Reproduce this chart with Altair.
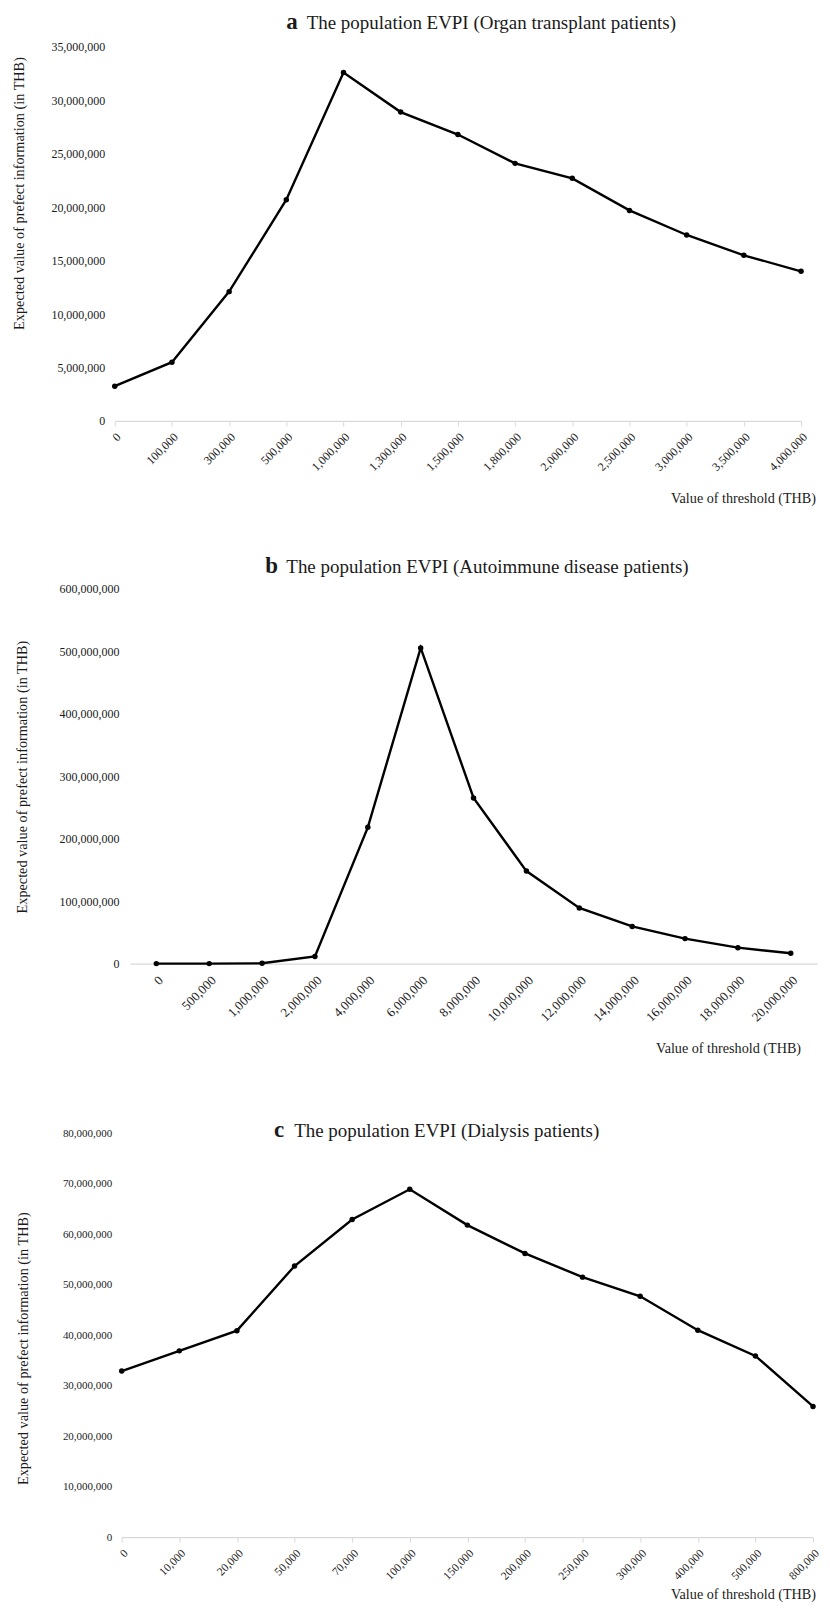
import altair as alt
import pandas as pd

# ---------------- data ----------------
a_thresholds = ["0", "100,000", "300,000", "500,000", "1,000,000", "1,300,000", "1,500,000",
                "1,800,000", "2,000,000", "2,500,000", "3,000,000", "3,500,000", "4,000,000"]
a_evpi = [3250000, 5500000, 12100000, 20700000, 32600000, 28900000, 26800000,
          24100000, 22700000, 19700000, 17400000, 15500000, 14000000]
a_yticks = [0, 5000000, 10000000, 15000000, 20000000, 25000000, 30000000, 35000000]

b_thresholds = ["0", "500,000", "1,000,000", "2,000,000", "4,000,000", "6,000,000", "8,000,000",
                "10,000,000", "12,000,000", "14,000,000", "16,000,000", "18,000,000", "20,000,000"]
b_evpi = [0, 0, 500000, 11500000, 218000000, 505000000, 265000000,
          148000000, 89000000, 59500000, 40000000, 25500000, 16500000]
b_yticks = [0, 100000000, 200000000, 300000000, 400000000, 500000000, 600000000]

c_thresholds = ["0", "10,000", "20,000", "50,000", "70,000", "100,000", "150,000",
                "200,000", "250,000", "300,000", "400,000", "500,000", "800,000"]
c_evpi = [32900000, 36900000, 40900000, 53700000, 62900000, 68900000, 61800000,
          56200000, 51500000, 47700000, 41000000, 35900000, 25900000]
c_yticks = [0, 10000000, 20000000, 30000000, 40000000, 50000000, 60000000, 70000000, 80000000]

titles = [
    ("a", "The population EVPI (Organ transplant patients)"),
    ("b", "The population EVPI (Autoimmune disease patients)"),
    ("c", "The population EVPI (Dialysis patients)"),
]
y_title = "Expected value of prefect information (in THB)"
x_title = "Value of threshold (THB)"

FONT = "Liberation Serif"
TXT = "#1a1a1a"
WIDTH = 705


def panel(cats, vals, yticks, letter, main, p):
    df = pd.DataFrame({"threshold": cats, "evpi": vals})
    H = p["H"]
    xenc = alt.X("threshold:N", sort=cats,
                 scale=alt.Scale(type="point", padding=p["xpad"], range=p["xrange"]),
                 axis=alt.Axis(title=None, labelAngle=-45, labelFont=FONT,
                               labelFontSize=p["xls"], labelColor=TXT,
                               domainColor="#d9d9d9", domainWidth=1.2,
                               ticks=p["ticks"], tickColor="#d9d9d9", tickSize=5,
                               labelPadding=p["xlp"], labelOverlap=False, grid=False))
    yenc = alt.Y("evpi:Q",
                 scale=alt.Scale(domain=[yticks[0], yticks[-1]], nice=False),
                 axis=alt.Axis(title=None, values=yticks, format=",.0f", domain=False,
                               ticks=False, grid=False, labelPadding=10, offset=p["yoff"],
                               labelFont=FONT, labelFontSize=p["yls"], labelColor=TXT))
    base = alt.Chart(df)
    line = base.mark_line(color="black", strokeWidth=2.4).encode(x=xenc, y=yenc)
    pts = base.mark_circle(color="black", size=30, opacity=1).encode(x=xenc, y=yenc)

    def txt(s, x, y, **kw):
        return alt.Chart(pd.DataFrame({"t": [s]})).mark_text(font=FONT, color=TXT, **kw).encode(
            x=alt.value(x), y=alt.value(y), text="t:N")

    t_letter = txt(letter, p["lx"], p["ty"], fontSize=23, fontWeight="bold",
                   align="left", baseline="alphabetic")
    t_main = txt(main, p["mx"], p["ty"], fontSize=19, align="left", baseline="alphabetic")
    t_y = txt(y_title, p["yx"], p["yy"], fontSize=14.3, angle=270,
              align="center", baseline="middle", limit=300)
    t_x = txt(x_title, p["xx"], p["xy"], fontSize=14.2, align="right", baseline="middle")
    spacer = alt.Chart(pd.DataFrame({"d": [0]})).mark_rule(opacity=0, strokeWidth=0).encode(
        x=alt.value(-107), y=alt.value(-p["T"]), y2=alt.value(H + p["B"]))
    return alt.layer(spacer, line, pts, t_letter, t_main, t_y, t_x).properties(width=WIDTH, height=H)


pa = dict(H=375, xpad=0, xrange=[0, 688], ticks=True, xls=12, yls=12, xlp=5, yoff=0,
          lx=172, mx=192.4, ty=-18.3, yx=-95, yy=147, xx=703, xy=453, T=33, B=87.5)
pb = dict(H=376, xpad=0.5, xrange=[15.2, 704.2], ticks=False, xls=13, yls=12, xlp=10, yoff=-14.2,
          lx=151, mx=172, ty=-15.7, yx=-92.3, yy=189, xx=688, xy=461.7, T=80, B=102.5)
pc = dict(H=405, xpad=0, xrange=[7, 700], ticks=True, xls=11.5, yls=11, xlp=5, yoff=-7,
          lx=159.7, mx=179.9, ty=4, yx=-91.3, yy=216, xx=703, xy=463, T=67, B=71)

chart = alt.vconcat(
    panel(a_thresholds, a_evpi, a_yticks, titles[0][0], titles[0][1], pa),
    panel(b_thresholds, b_evpi, b_yticks, titles[1][0], titles[1][1], pb),
    panel(c_thresholds, c_evpi, c_yticks, titles[2][0], titles[2][1], pc),
    spacing=0,
).properties(padding={"left": 0, "top": 0, "right": 0, "bottom": 0},
             background="white").configure_view(stroke=None)

chart.save("out.html", embed_options={"renderer": "svg", "actions": False})
